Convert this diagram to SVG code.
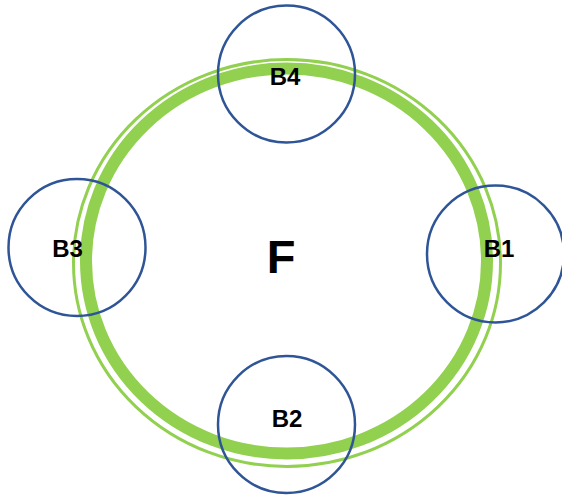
<svg xmlns="http://www.w3.org/2000/svg" width="562" height="496" viewBox="0 0 562 496">
  <style>
    .ring-thin { fill: none; stroke: #92D050; stroke-width: 3; }
    .ring-thick { fill: none; stroke: #92D050; stroke-width: 12; }
    .bnode { fill: none; stroke: #2F5597; stroke-width: 2.5; }
    .lbl { font-family: "Liberation Sans", Arial, sans-serif; font-weight: bold; font-size: 24px; fill: #000; text-anchor: middle; }
    .big { font-family: "Liberation Sans", Arial, sans-serif; font-weight: bold; font-size: 47px; fill: #000; text-anchor: middle; }
  </style>
  <rect width="562" height="496" fill="#fff"/>
  <g id="F">
    <ellipse class="ring-thin" cx="287" cy="263" rx="213.5" ry="203.5"/>
    <ellipse class="ring-thick" cx="286.5" cy="261" rx="200.5" ry="192.5"/>
    <text class="big" x="281" y="273">F</text>
  </g>
  <g id="connectors"/>
  <g id="B4">
    <circle class="bnode" cx="286.5" cy="74" r="68.5"/>
    <text class="lbl" x="285" y="85">B4</text>
  </g>
  <g id="B3">
    <circle class="bnode" cx="77" cy="247.5" r="68.5"/>
    <text class="lbl" x="67.5" y="257">B3</text>
  </g>
  <g id="B1">
    <circle class="bnode" cx="495.5" cy="254" r="68.5"/>
    <text class="lbl" x="499" y="257">B1</text>
  </g>
  <g id="B2">
    <circle class="bnode" cx="286.5" cy="424.5" r="68.5"/>
    <text class="lbl" x="287" y="427">B2</text>
  </g>
</svg>
